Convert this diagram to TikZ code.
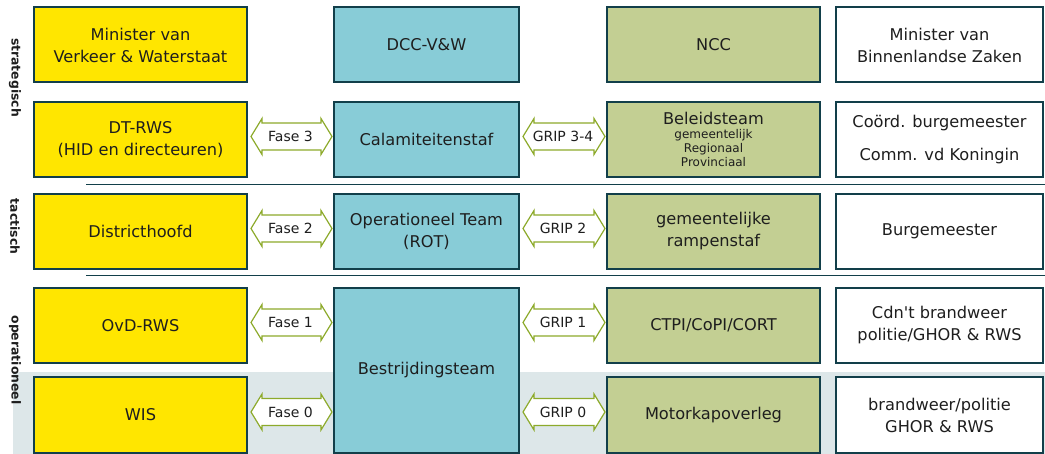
\documentclass[tikz,border=0pt]{standalone}
\usepackage{fontspec}
\setmainfont{DejaVu Sans}
\usetikzlibrary{calc}

\definecolor{rwsyellow}{HTML}{FFE600}
\definecolor{rwscyan}{HTML}{88CCD7}
\definecolor{rwsolive}{HTML}{C3CF93}
\definecolor{rwsborder}{HTML}{123F4A}
\definecolor{rwsband}{HTML}{DDE7E9}
\definecolor{rwsgreen}{HTML}{8DAA2B}
\definecolor{rwstext}{HTML}{1E1E1E}

\newcommand{\boxfont}{\fontsize{8.1}{11}\selectfont}
\newcommand{\tinyfont}{\fontsize{6}{7}\selectfont}
\newcommand{\phasefont}{\fontsize{7}{8}\selectfont}

% double arrow between two boxes
\newcommand{\phasearrow}[3]{%
  \draw[phase] let \p1=(#1), \p2=(#2) in
    ({\x1+1.5pt},{\y1+1.5pt}) -- ({\x1+7pt},{\y1+10.5pt}) -- ({\x1+7pt},{\y1+8.25pt})
    -- ({\x2-6pt},{\y1+8.25pt}) -- ({\x2-6pt},{\y1+10.5pt}) -- ({\x2-0.5pt},{\y1+1.5pt})
    -- ({\x2-6pt},{\y1-7.5pt}) -- ({\x2-6pt},{\y1-5.25pt}) -- ({\x1+7pt},{\y1-5.25pt})
    -- ({\x1+7pt},{\y1-7.5pt}) -- cycle
    node[phaselabel] at ({(\x1+\x2)/2},{\y1+1.5pt}) {#3};}

\begin{document}
\begin{tikzpicture}[
    x=0.5pt, y=-0.5pt,
    box/.style={draw=rwsborder, line width=1pt, minimum height=37.5pt,
        align=center, inner sep=1pt, text=rwstext, font=\boxfont},
    rws/.style={box, fill=rwsyellow, minimum width=106.5pt},
    vw/.style={box, fill=rwscyan, minimum width=92.5pt},
    bzk/.style={box, fill=rwsolive, minimum width=106.5pt},
    mayor/.style={box, fill=white, minimum width=103.5pt},
    level/.style={rotate=-90, font=\fontsize{6.2}{7}\selectfont\bfseries, text=rwstext},
    phase/.style={draw=rwsgreen, line width=0.6pt, fill=white, line join=miter},
    phaselabel/.style={font=\phasefont, text=rwstext, inner sep=0pt},
    sep/.style={draw=rwsborder, line width=0.5pt}
]
\useasboundingbox (0,0) rectangle (1045,454);

\fill[rwsband] (13,372) rectangle (1045,454);
\draw[sep] (86,185) -- (1045,185);
\draw[sep] (86,276) -- (1045,276);

% levels
\node[level] (strat) at (15,77.5) {strategisch};
\node[level] (tact) at (15,226.5) {tactisch};
\node[level] (oper) at (15,360) {operationeel};

% column RWS
\node[rws] (minvw) at (140.5,45) {Minister van\\Verkeer \& Waterstaat};
\node[rws] (dtrws) at (140.5,139.5) {DT-RWS\\(HID en directeuren)};
\node[rws] (district) at (140.5,231.5) {Districthoofd};
\node[rws] (ovd) at (140.5,325.5) {OvD-RWS};
\node[rws] (wis) at (140.5,415) {WIS};

% column V&W
\node[vw] (dcc) at (426.5,45) {DCC-V\&W};
\node[vw] (calam) at (426.5,139.5) {Calamiteitenstaf};
\node[vw] (rot) at (426.5,231.5) {Operationeel Team\\(ROT)};
\node[vw, minimum height=82.5pt] (bestr) at (426.5,370.5) {Bestrijdingsteam};

% column BZK
\node[bzk] (ncc) at (713.5,45) {NCC};
\node[bzk, font=\tinyfont] (beleid) at (713.5,139.5) {{\boxfont Beleidsteam}\\gemeentelijk\\Regionaal\\Provinciaal};
\node[bzk] (ramp) at (713.5,231.5) {gemeentelijke\\rampenstaf};
\node[bzk] (ctpi) at (713.5,325.5) {CTPI/CoPI/CORT};
\node[bzk] (motor) at (713.5,415) {Motorkapoverleg};

% column mayors
\node[mayor] (minbzk) at (939.5,45) {Minister van\\Binnenlandse Zaken};
\node[mayor] (coord) at (939.5,139.5) {Coörd. burgemeester\\[5.5pt]Comm. vd Koningin};
\node[mayor] (burg) at (939.5,231.5) {Burgemeester};
\node[mayor] (cdnt) at (939.5,325.5) {Cdn\textquotesingle t brandweer\\politie/GHOR \& RWS};
\node[mayor] (brand) at (939.5,415) {brandweer/politie\\GHOR \& RWS};

% phases
\phasearrow{dtrws.east}{calam.west}{Fase 3}
\phasearrow{district.east}{rot.west}{Fase 2}
\phasearrow{ovd.east}{ovd.east -| bestr.west}{Fase 1}
\phasearrow{wis.east}{wis.east -| bestr.west}{Fase 0}
\phasearrow{calam.east}{beleid.west}{GRIP 3-4}
\phasearrow{rot.east}{ramp.west}{GRIP 2}
\phasearrow{ctpi.east -| bestr.east}{ctpi.west}{GRIP 1}
\phasearrow{motor.east -| bestr.east}{motor.west}{GRIP 0}

\end{tikzpicture}
\end{document}
